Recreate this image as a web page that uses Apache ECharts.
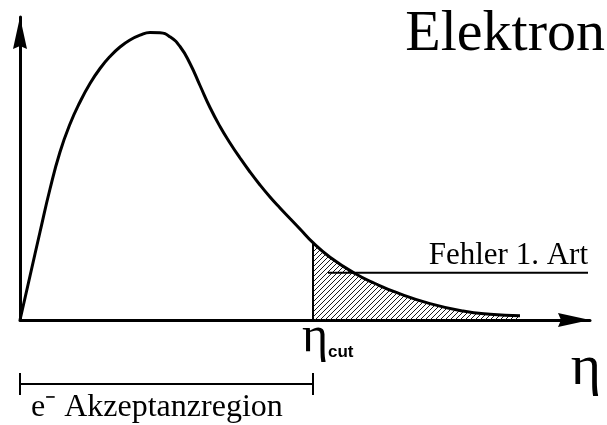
<!DOCTYPE html>
<html>
<head>
<meta charset="utf-8">
<script src="https://cdn.jsdelivr.net/npm/echarts@6/dist/echarts.min.js"></script>
<style>
  html, body { margin: 0; padding: 0; background: #fff; }
</style>
</head>
<body>
<div id="eta-chart" style="width: 607px; height: 425px"></div>
<script>
// distribution of electrons over eta (arbitrary units)
const etaValues = [0, 1, 2, 3, 4, 5, 6, 7, 8, 9, 10, 11, 12, 13, 14, 15, 16, 17, 18, 19, 20, 21, 22, 23, 24, 25, 26, 27, 28, 29.3, 31, 33.5, 35.5, 37.7, 41, 44.3, 47, 50];
const countValues = [0, 4.4, 8.8, 13.1, 16.8, 19.6, 21.8, 23.65, 25.15, 26.35, 27.3, 28.0, 28.48, 28.76, 28.72, 28.32, 27.35, 25.65, 23.45, 21.25, 19.35, 17.7, 16.2, 14.8, 13.5, 12.3, 11.2, 10.15, 9.1, 7.73, 6.28, 4.65, 3.65, 2.73, 1.64, 0.9, 0.58, 0.43];
const etaCut = 29.3;
const errorLevel = 4.73; // height where the "Fehler 1. Art" pointer meets the curve
const errorLineStart = 30.8;
const errorLineEnd = 56.8;
const etaMax = 57;
const countMax = 30.3;

const curve = etaValues.map((x, i) => [x, countValues[i]]);
const tail = curve.filter((p) => p[0] >= etaCut);

// hatch tile for the area beyond eta_cut
const tile = document.createElement("canvas");
tile.width = 5;
tile.height = 5;
const ctx = tile.getContext("2d");
ctx.strokeStyle = "#1a1a1a";
ctx.lineWidth = 1;
ctx.beginPath();
ctx.moveTo(0, 5);
ctx.lineTo(5, 0);
ctx.moveTo(-1, 1);
ctx.lineTo(1, -1);
ctx.moveTo(4, 6);
ctx.lineTo(6, 4);
ctx.stroke();

const arrow = "path://M7,0 L14,32 L7,29 L0,32 Z";
const serif = '"Liberation Serif", "Times New Roman", serif';

const myChart = echarts.init(document.getElementById("eta-chart"));

const option = {
  animation: false,
  grid: { left: 20, right: 17, top: 17, bottom: 105 },
  xAxis: {
    type: "value",
    min: 0,
    max: etaMax,
    axisLine: {
      show: true,
      symbol: ["none", arrow],
      symbolSize: [14, 32],
      symbolOffset: [0, -16],
      lineStyle: { color: "#000", width: 3 },
    },
    axisTick: { show: false },
    axisLabel: { show: false },
    splitLine: { show: false },
  },
  yAxis: {
    type: "value",
    min: 0,
    max: countMax,
    axisLine: {
      show: true,
      symbol: ["none", arrow],
      symbolSize: [14, 32],
      symbolOffset: [0, -16],
      lineStyle: { color: "#000", width: 3 },
    },
    axisTick: { show: false },
    axisLabel: { show: false },
    splitLine: { show: false },
  },
  series: [
    {
      type: "line",
      data: tail,
      smooth: 0.5,
      symbol: "none",
      silent: true,
      lineStyle: { width: 0 },
      areaStyle: { color: { image: tile, repeat: "repeat" }, opacity: 1 },
      z: 1,
    },
    {
      type: "line",
      data: curve,
      smooth: 0.5,
      symbol: "none",
      silent: true,
      clip: false,
      lineStyle: { color: "#000", width: 3 },
      z: 3,
    },
    {
      type: "line",
      data: [[etaCut, 0], [etaCut, countValues[etaValues.indexOf(etaCut)]]],
      symbol: "none",
      silent: true,
      lineStyle: { color: "#000", width: 2 },
      z: 3,
    },
    {
      type: "line",
      data: [[errorLineStart, errorLevel], [errorLineEnd, errorLevel]],
      symbol: "none",
      silent: true,
      clip: false,
      lineStyle: { color: "#000", width: 2 },
      z: 3,
    },
  ],
};

myChart.setOption(option);

// labels and the acceptance bracket, placed from the axis scale
const x0 = myChart.convertToPixel({ xAxisIndex: 0 }, 0);
const xc = myChart.convertToPixel({ xAxisIndex: 0 }, etaCut);
const bracketY = 384;

myChart.setOption({
  graphic: [
    { type: "line", shape: { x1: x0, y1: bracketY, x2: xc, y2: bracketY }, style: { stroke: "#000", lineWidth: 2 } },
    { type: "line", shape: { x1: x0, y1: 373, x2: x0, y2: 395 }, style: { stroke: "#000", lineWidth: 2 } },
    { type: "line", shape: { x1: xc, y1: 373, x2: xc, y2: 395 }, style: { stroke: "#000", lineWidth: 2 } },
    {
      type: "text",
      x: 605, y: 35,
      style: { text: "Elektron", font: "58px " + serif, fill: "#000", align: "right", verticalAlign: "middle" },
    },
    {
      type: "text",
      x: 588, y: 256,
      style: { text: "Fehler 1. Art", font: "31px " + serif, fill: "#000", align: "right", verticalAlign: "middle" },
    },
    {
      type: "text",
      x: 601, y: 369,
      style: { text: "\u03b7", font: "58px " + serif, fill: "#000", align: "right", verticalAlign: "middle" },
    },
    {
      type: "text",
      x: xc - 11, y: 338,
      style: { text: "\u03b7", font: "50px " + serif, fill: "#000", align: "left", verticalAlign: "middle" },
    },
    {
      type: "text",
      x: xc + 15, y: 352,
      style: { text: "cut", font: 'bold 17px "Liberation Sans", Arial, sans-serif', fill: "#000", align: "left", verticalAlign: "middle" },
    },
    {
      type: "text",
      x: 31, y: 408,
      style: { text: "e\u207b Akzeptanzregion", font: "32px " + serif, fill: "#000", align: "left", verticalAlign: "middle" },
    },
  ],
});

window.addEventListener("resize", () => {
  myChart.resize();
});
</script>
</body>
</html>
